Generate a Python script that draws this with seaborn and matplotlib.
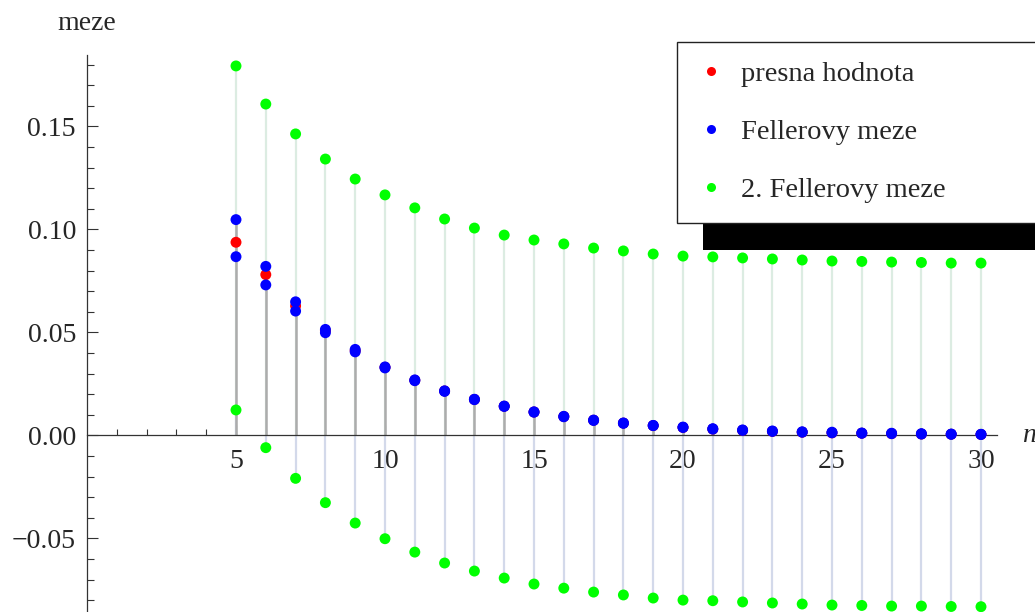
import matplotlib
matplotlib.use("Agg")
import matplotlib.pyplot as plt
import seaborn as sns
import pandas as pd
from matplotlib.lines import Line2D
from matplotlib.patches import Rectangle
from matplotlib.transforms import IdentityTransform
from matplotlib.ticker import FixedLocator, FixedFormatter

# ---------------- data ----------------
n_values = list(range(5, 31))
exact = [0.0937, 0.0780, 0.0628, 0.0508, 0.0411, 0.0330, 0.0267, 0.0215, 0.0174,
         0.0141, 0.0113, 0.0091, 0.0073, 0.0059, 0.0047, 0.0038, 0.0030, 0.0024,
         0.0019, 0.0015, 0.0012, 0.0010, 0.0008, 0.0006, 0.0005, 0.0004]
feller_upper = [0.1047, 0.0820, 0.0648, 0.0514, 0.0417, 0.0332, 0.0269, 0.0216,
                0.0175, 0.0142, 0.0114, 0.0092, 0.0074, 0.0060, 0.0048, 0.0040,
                0.0032, 0.0026, 0.0021, 0.0017, 0.0015, 0.0011, 0.0010, 0.0008,
                0.0006, 0.0005]
feller_lower = [0.0867, 0.0730, 0.0603, 0.0498, 0.0405, 0.0327, 0.0265, 0.0213,
                0.0173, 0.0140, 0.0112, 0.0090, 0.0072, 0.0058, 0.0047, 0.0038,
                0.0030, 0.0024, 0.0019, 0.0015, 0.0012, 0.0010, 0.0008, 0.0006,
                0.0005, 0.0004]
feller2_upper = [0.1793, 0.1608, 0.1463, 0.1341, 0.1244, 0.1167, 0.1104, 0.1050,
                 0.1006, 0.0972, 0.0948, 0.0929, 0.0909, 0.0895, 0.0880, 0.0870,
                 0.0866, 0.0861, 0.0856, 0.0851, 0.0846, 0.0844, 0.0841, 0.0839,
                 0.0836, 0.0836]
feller2_lower = [0.0123, -0.0060, -0.0209, -0.0327, -0.0426, -0.0502, -0.0567,
                 -0.0620, -0.0659, -0.0693, -0.0722, -0.0742, -0.0761, -0.0775,
                 -0.0790, -0.0800, -0.0803, -0.0809, -0.0814, -0.0819, -0.0824,
                 -0.0826, -0.0829, -0.0829, -0.0831, -0.0832]

series_names = ["presna hodnota", "Fellerovy meze", "2. Fellerovy meze"]
series_colors = ["#ff0000", "#0000ff", "#00ff00"]
y_ticks = [-0.05, 0.00, 0.05, 0.10, 0.15]
y_tick_labels = ["\u22120.05", "0.00", "0.05", "0.10", "0.15"]
y_minor_ticks = [k / 100 for k in range(-8, 19)]
x_ticks = [5, 10, 15, 20, 25, 30]
x_minor_ticks = list(range(1, 31))

# long-form table
rows = []
for i, n in enumerate(n_values):
    rows.append((n, exact[i], series_names[0]))
for i, n in enumerate(n_values):
    rows.append((n, feller_upper[i], series_names[1]))
    rows.append((n, feller_lower[i], series_names[1]))
for i, n in enumerate(n_values):
    rows.append((n, feller2_upper[i], series_names[2]))
    rows.append((n, feller2_lower[i], series_names[2]))
df = pd.DataFrame(rows, columns=["n", "meze", "series"])

# ---------------- figure ----------------
sns.set_style("white")
plt.rcParams["font.family"] = ["Liberation Serif", "DejaVu Serif"]
plt.rcParams["axes.unicode_minus"] = True

W, H, DPI = 1035, 612, 100
fig = plt.figure(figsize=(W / DPI, H / DPI), dpi=DPI, facecolor="white")
ax = fig.add_axes([0, 0, 1, 1])
ax.set_facecolor("none")

# pixel mapping of the reference: x=0 at px 87, 29.8 px/unit; y=0 at px 435.3, 2060 px/unit
px_x0, px_per_x = 87.0, 29.8
px_y0, px_per_y = 435.3, 2060.0
ax.set_xlim(-px_x0 / px_per_x, (W - px_x0) / px_per_x)
ax.set_ylim(-(H - px_y0) / px_per_y, px_y0 / px_per_y)

# stems (fillings to axis)
ax.vlines(n_values, 0, feller2_upper, colors="#dcece2", linewidth=1.6, zorder=1)
ax.vlines(n_values, feller2_lower, 0, colors="#d3d9ea", linewidth=1.6, zorder=1)
ax.vlines(n_values, 0, feller_upper, colors="#acacac", linewidth=1.8, zorder=1.5)

# points
sns.scatterplot(data=df, x="n", y="meze", hue="series", hue_order=series_names,
                palette=series_colors, s=62, linewidth=0, legend=False,
                ax=ax, zorder=3)

# axes crossing at origin
for side in ["top", "right"]:
    ax.spines[side].set_visible(False)
ax.spines["left"].set_position(("data", 0))
ax.spines["bottom"].set_position(("data", 0))
ax.spines["left"].set_bounds(-(H - px_y0) / px_per_y, 0.1846)
ax.spines["bottom"].set_bounds(0, 30.54)
for side in ["left", "bottom"]:
    ax.spines[side].set_color("#333333")
    ax.spines[side].set_linewidth(0.9)
    ax.spines[side].set_zorder(2)

ax.xaxis.set_major_locator(FixedLocator(x_ticks))
ax.xaxis.set_minor_locator(FixedLocator(x_minor_ticks))
ax.yaxis.set_major_locator(FixedLocator(y_ticks))
ax.yaxis.set_major_formatter(FixedFormatter(y_tick_labels))
ax.yaxis.set_minor_locator(FixedLocator(y_minor_ticks))
ax.tick_params(axis="both", which="both", direction="in", color="#333333",
               width=0.8, labelsize=20, bottom=True, left=True,
               top=False, right=False)
ax.tick_params(axis="x", which="major", length=7, pad=10)
ax.tick_params(axis="x", which="minor", length=4.5)
ax.tick_params(axis="y", which="major", length=8, pad=8)
ax.tick_params(axis="y", which="minor", length=5)
ax.set_xlabel("")
ax.set_ylabel("")

# axis labels
ax.text(0, 0.1967, "meze", ha="center", va="baseline", fontsize=20)
ax.text(31.38, 0, "n", ha="left", va="center", fontsize=20, style="italic")

# legend
handles = [Line2D([], [], linestyle="none", marker="o", markersize=6.5,
                  markerfacecolor=c, markeredgewidth=0) for c in series_colors]
leg_left = 677 / W
leg_top = 1 - 41.7 / H
leg = ax.legend(handles, series_names, loc="upper left",
                bbox_to_anchor=(leg_left, 0, 420 / W, leg_top),
                bbox_transform=fig.transFigure, mode="expand",
                fontsize=20.5, frameon=True, fancybox=False, framealpha=1,
                edgecolor="#222222", borderpad=0.68, labelspacing=1.13,
                handlelength=1.0, handletextpad=0.58, borderaxespad=0)
leg.get_frame().set_linewidth(1.0)
leg.set_zorder(5)

# legend drop shadow
fig.canvas.draw()
bb = leg.get_frame().get_window_extent(fig.canvas.get_renderer())
shadow = Rectangle((bb.x0 + 26, bb.y0 - 27), bb.width, bb.height,
                   transform=IdentityTransform(), facecolor="black",
                   edgecolor="none", zorder=4.9, clip_on=False)
ax.add_patch(shadow)

fig.savefig("out.png", dpi=DPI, facecolor="white")
